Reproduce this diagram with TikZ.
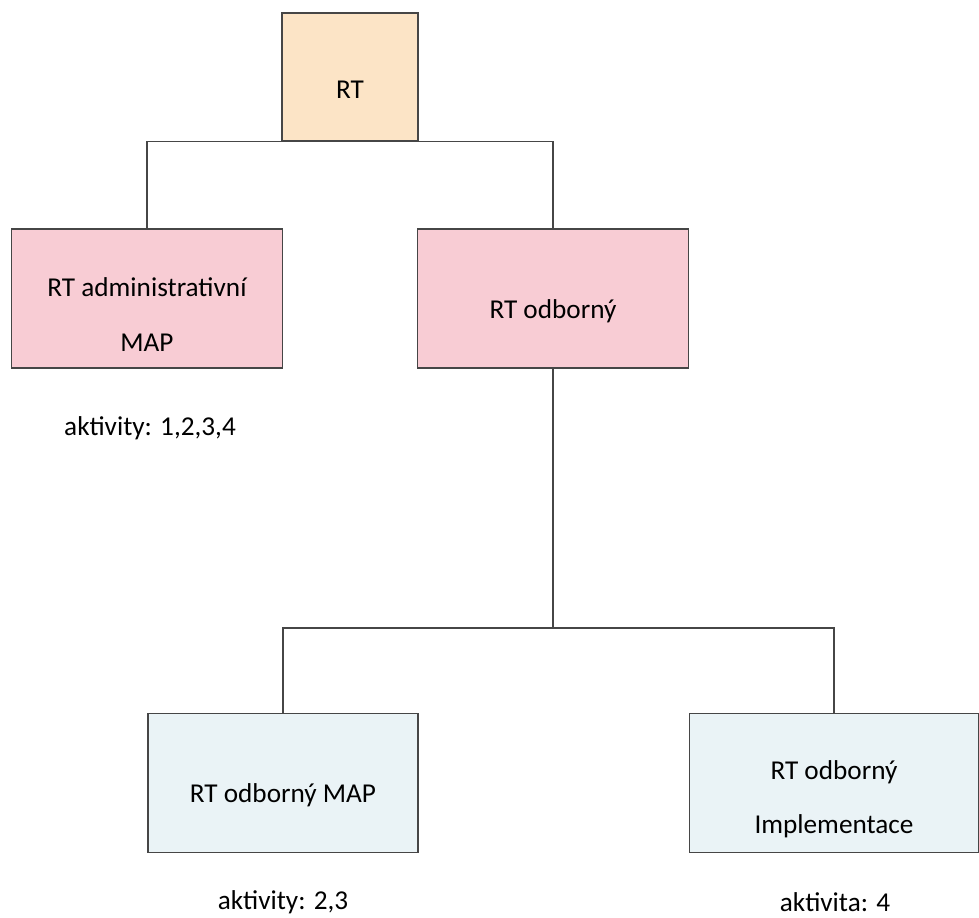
\documentclass[tikz,border=0pt]{standalone}
\usepackage{fontspec}
\setmainfont{Carlito}
\usetikzlibrary{positioning,calc}
\definecolor{rtpeach}{RGB}{252,228,198}
\definecolor{rtpink}{RGB}{248,204,212}
\definecolor{rtblue}{RGB}{234,243,246}
\definecolor{rtline}{RGB}{70,70,70}

\begin{document}
\begin{tikzpicture}
    	[x=0.02cm, y=-0.02cm,
    		box/.style={
    		  rectangle,
    		  draw=rtline,
    		  line width=0.8pt,
    		  align=center,
    		  inner sep=0pt,
    		  text height=25pt,
    		  font=\fontsize{15.5}{31}\selectfont
    		},
    		twoline/.style={text height=60pt},
    		topbox/.style={box, fill=rtpeach, minimum width=2.72cm, minimum height=2.56cm},
    		midbox/.style={box, fill=rtpink, minimum width=5.42cm, minimum height=2.78cm},
    		lowbox/.style={box, fill=rtblue, minimum height=2.78cm},
    		note/.style={font=\fontsize{15.5}{18}\selectfont},
    		link/.style={draw=rtline, line width=0.8pt}
    	]
    	\useasboundingbox (0,0) rectangle (979,918);

    	\node[topbox] (rt) at (350, 77) {RT};
    	\node[midbox, twoline] (admin) at (147, 298.5) {RT administrativní\\MAP};
    	\node[midbox] (odb) at (553, 298.5) {RT odborný};
    	\node[note] (aktadmin) at (150, 428) {aktivity: 1,2,3,4};

    	\draw[link] (admin.north) |- (rt.south) -| (odb.north);

    	\node[lowbox, minimum width=5.4cm] (odbmap) at (283, 783) {RT odborný MAP};
    	\node[lowbox, twoline, minimum width=5.78cm] (odbimpl) at (834, 783) {RT odborný\\Implementace};
    	\node[note] (aktmap) at (283, 902) {aktivity: 2,3};
    	\node[note] (aktimpl) at (835, 902) {aktivita: 4};

    	\coordinate (fork) at (odb.south |- 0, 628);
    	\draw[link] (odb.south) -- (fork);
    	\draw[link] (odbmap.north) |- (fork) -| (odbimpl.north);
    \end{tikzpicture}
\end{document}
